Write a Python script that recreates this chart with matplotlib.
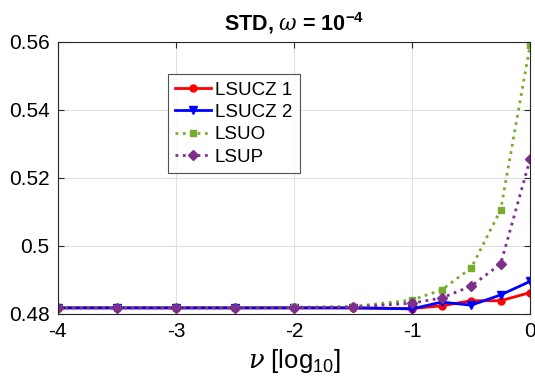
import matplotlib
matplotlib.use('Agg')
import matplotlib.pyplot as plt

plt.rcParams['font.family'] = ['Liberation Sans', 'DejaVu Sans']
plt.rcParams['mathtext.fontset'] = 'custom'
plt.rcParams['mathtext.rm'] = 'Liberation Sans'
plt.rcParams['mathtext.bf'] = 'Liberation Sans:bold'
plt.rcParams['mathtext.it'] = 'DejaVu Serif:italic'
plt.rcParams['axes.unicode_minus'] = False

# log10 of nu
nu = [-4, -3.5, -3, -2.5, -2, -1.5, -1, -0.75, -0.5, -0.25, 0]

lsucz1 = [0.4818, 0.4818, 0.4818, 0.4818, 0.4818, 0.4818, 0.4816, 0.4824, 0.4839, 0.4839, 0.4863]
lsucz2 = [0.4818, 0.4818, 0.4818, 0.4818, 0.4818, 0.4818, 0.4815, 0.4835, 0.4826, 0.4856, 0.4896]
lsuo = [0.4819, 0.4819, 0.4819, 0.4819, 0.4820, 0.4822, 0.4841, 0.4871, 0.4935, 0.5106, 0.5592]
lsup = [0.4818, 0.4818, 0.4818, 0.4818, 0.4819, 0.4820, 0.4832, 0.4847, 0.4882, 0.4947, 0.5256]

fig = plt.figure(figsize=(5.35, 3.92), dpi=100)
ax = fig.add_axes([0.108, 0.199, 0.883, 0.694])

ax.plot(nu, lsucz1, '-o', color='#ff0000', lw=2, ms=5, label='LSUCZ 1')
ax.plot(nu, lsucz2, '-v', color='#0000ff', lw=2, ms=6, label='LSUCZ 2')
ax.plot(nu, lsuo, ':s', color='#77ac30', lw=2, ms=5, label='LSUO')
ax.plot(nu, lsup, ':D', color='#7e2f8e', lw=2, ms=5, label='LSUP')

ax.set_xlim(-4, 0)
ax.set_ylim(0.48, 0.56)
ax.set_xticks([-4, -3, -2, -1, 0])
ax.set_yticks([0.48, 0.5, 0.52, 0.54, 0.56])
ax.set_yticklabels(['0.48', '0.5', '0.52', '0.54', '0.56'])
ax.tick_params(labelsize=15, direction='in', length=4, pad=6, color='#262626', top=True, right=True)
ax.grid(True, color='#e0e0e0', lw=0.8)
for s in ax.spines.values():
    s.set_color('#262626')
    s.set_linewidth(0.8)

ax.set_title(r'STD, $\omega$ = 10$^{\mathbf{-4}}$', fontsize=15.5, fontweight='bold', pad=8)
ax.set_xlabel(r'$\nu$ [log$_{\mathrm{10}}$]', fontsize=18.5, labelpad=4)

leg = ax.legend(loc='upper left', bbox_to_anchor=(0.233, 0.882), fontsize=13.5,
                frameon=True, fancybox=False, edgecolor='#262626', borderaxespad=0,
                handlelength=1.9, handletextpad=0.2, borderpad=0.4, labelspacing=0.28)
leg.get_frame().set_linewidth(0.8)

fig.savefig('out.png', dpi=100)
